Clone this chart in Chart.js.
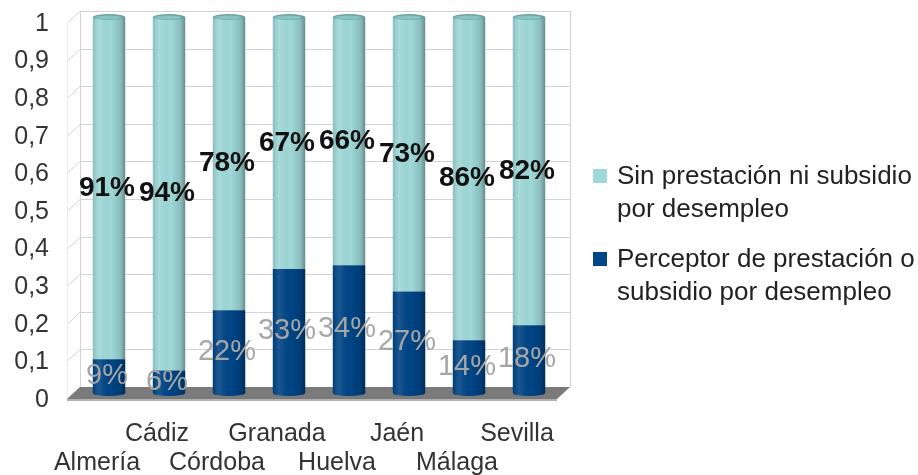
<!DOCTYPE html>
<html lang="es">
<head>
<meta charset="UTF-8">
<title>Prestación por desempleo por provincia</title>
<script src="https://cdn.jsdelivr.net/npm/chart.js"></script>
<style>
  html, body { margin: 0; padding: 0; background: #fff; }
  #wrap { position: relative; width: 918px; height: 475px; }
</style>
</head>
<body>
<div id="wrap"><canvas id="grafico"></canvas></div>
<script>
// Datos (fracciones sobre 1)
const provincias = ["Almería", "Cádiz", "Córdoba", "Granada", "Huelva", "Jaén", "Málaga", "Sevilla"];
const perceptor = [0.09, 0.06, 0.22, 0.33, 0.34, 0.27, 0.14, 0.18];
const sinPrestacion = [0.91, 0.94, 0.78, 0.67, 0.66, 0.73, 0.86, 0.82];
const serieNombres = [
  ["Perceptor de prestación o", "subsidio por desempleo"],
  ["Sin prestación ni subsidio", "por desempleo"]
];
const ticksY = [0, 0.1, 0.2, 0.3, 0.4, 0.5, 0.6, 0.7, 0.8, 0.9, 1];

const FUENTE = "'Liberation Sans', Arial, sans-serif";
const PROF = { dx: 6.5, dy: 6 }; // media profundidad de la "caja" 3D

// Paredes, rejilla y suelo en pseudo-3D
const fondo3d = {
  id: "fondo3d",
  beforeDatasetsDraw(chart) {
    const { ctx, chartArea: a, scales: { y } } = chart;
    const { dx, dy } = PROF;
    const xl = a.left - 5.5, xr = a.right + 4.5;
    const yTop = y.getPixelForValue(1), y0 = y.getPixelForValue(0);
    ctx.save();
    ctx.lineWidth = 1;
    ctx.strokeStyle = "#d3d3d3";
    ticksY.forEach(v => {
      const py = Math.round(y.getPixelForValue(v)) + 0.5;
      ctx.beginPath();
      ctx.moveTo(xl - dx, py + dy);
      ctx.lineTo(xl + dx, py - dy);
      ctx.lineTo(xr + dx, py - dy);
      ctx.stroke();
    });
    // aristas de las paredes
    ctx.beginPath();
    ctx.moveTo(Math.round(xl + dx) + 0.5, yTop - dy);
    ctx.lineTo(Math.round(xl + dx) + 0.5, y0 - dy);
    ctx.moveTo(Math.round(xr + dx) + 0.5, yTop - dy);
    ctx.lineTo(Math.round(xr + dx) + 0.5, y0 - dy);
    ctx.stroke();
    ctx.strokeStyle = "#ececec";
    ctx.beginPath();
    ctx.moveTo(Math.round(xl - dx) + 0.5, yTop + dy);
    ctx.lineTo(Math.round(xl - dx) + 0.5, y0 + dy);
    ctx.stroke();
    // suelo
    ctx.fillStyle = "#7a7a7a";
    ctx.beginPath();
    ctx.moveTo(xl - dx, y0 + dy);
    ctx.lineTo(xr - dx, y0 + dy);
    ctx.lineTo(xr + dx, y0 - dy);
    ctx.lineTo(xl + dx, y0 - dy);
    ctx.closePath();
    ctx.fill();
    ctx.fillStyle = "#b0b0b0";
    ctx.fillRect(xl - dx, y0 + dy, xr - xl, 2);
    ctx.restore();
  }
};

// Sombreado cilíndrico y etiquetas de porcentaje
const cilindros = {
  id: "cilindros",
  afterDatasetsDraw(chart) {
    const { ctx } = chart;
    const n = chart.data.datasets.length;
    ctx.save();
    chart.data.datasets.forEach((ds, i) => {
      const meta = chart.getDatasetMeta(i);
      meta.data.forEach(bar => {
        const { x, y, base, width } = bar.getProps(["x", "y", "base", "width"], true);
        const l = x - width / 2, r = x + width / 2;
        if (i === 0) {
          // fondo redondeado
          ctx.fillStyle = ds.backgroundColor;
          ctx.beginPath();
          ctx.ellipse(x, base, width / 2, 3, 0, 0, Math.PI);
          ctx.fill();
        }
        const g = ctx.createLinearGradient(l, 0, r, 0);
        g.addColorStop(0, "rgba(0,0,0,0.12)");
        g.addColorStop(0.2, "rgba(255,255,255,0.10)");
        g.addColorStop(0.55, "rgba(0,0,0,0)");
        g.addColorStop(0.85, "rgba(0,0,0,0.12)");
        g.addColorStop(1, "rgba(0,0,0,0.35)");
        ctx.fillStyle = g;
        ctx.fillRect(l, y, width, base - y);
        if (i === 0) {
          ctx.beginPath();
          ctx.ellipse(x, base, width / 2, 3, 0, 0, Math.PI);
          ctx.fill();
        }
        if (i === n - 1) {
          // tapa superior
          ctx.fillStyle = "#6aa4a4";
          ctx.beginPath();
          ctx.ellipse(x, y, width / 2, 3, 0, 0, Math.PI * 2);
          ctx.fill();
          ctx.fillStyle = "#88c2c2";
          ctx.beginPath();
          ctx.ellipse(x - 1, y + 0.5, width / 2 - 3, 2, 0, 0, Math.PI * 2);
          ctx.fill();
        }
      });
    });
    // etiquetas
    ctx.textAlign = "center";
    ctx.textBaseline = "middle";
    chart.data.datasets.forEach((ds, i) => {
      const meta = chart.getDatasetMeta(i);
      ctx.font = ds.etiquetaFuente;
      ctx.fillStyle = ds.etiquetaColor;
      meta.data.forEach((bar, j) => {
        const { x, y, base } = bar.getProps(["x", "y", "base"], true);
        ctx.fillText(Math.round(ds.data[j] * 100) + "%", x - 2, (y + base) / 2);
      });
    });
    ctx.restore();
  }
};

// Leyenda a la derecha, con textos en dos líneas
const leyenda = {
  id: "leyenda",
  afterDraw(chart) {
    const { ctx, chartArea: a } = chart;
    const x0 = a.right + 34;
    let yLine = a.top + 160;
    ctx.save();
    ctx.font = "26px " + FUENTE;
    ctx.textBaseline = "middle";
    ctx.textAlign = "left";
    const orden = chart.data.datasets.map((d, i) => i).reverse();
    orden.forEach(i => {
      const ds = chart.data.datasets[i];
      ctx.fillStyle = ds.backgroundColor;
      ctx.fillRect(x0, yLine - 8, 14, 14);
      ctx.fillStyle = "#222";
      ds.label.forEach((t, k) => ctx.fillText(t, x0 + 24, yLine + k * 33));
      yLine += 83;
    });
    ctx.restore();
  }
};

new Chart(document.getElementById("grafico"), {
  type: "bar",
  data: {
    labels: provincias,
    datasets: [
      {
        label: serieNombres[0],
        data: perceptor,
        backgroundColor: "#004586",
        etiquetaColor: "#a6a6a6",
        etiquetaFuente: "29px " + FUENTE
      },
      {
        label: serieNombres[1],
        data: sinPrestacion,
        backgroundColor: "#9fd8d8",
        etiquetaColor: "#111",
        etiquetaFuente: "bold 28px " + FUENTE
      }
    ]
  },
  options: {
    responsive: true,
    maintainAspectRatio: false,
    animation: false,
    layout: { padding: { top: 17, right: 359, left: 0, bottom: 0 } },
    datasets: { bar: { categoryPercentage: 1, barPercentage: 0.54 } },
    plugins: { legend: { display: false }, tooltip: { enabled: false } },
    scales: {
      x: {
        stacked: true,
        grid: { display: false, drawTicks: false },
        border: { display: false },
        ticks: {
          autoSkip: false,
          maxRotation: 0,
          padding: 27,
          labelOffset: -12,
          color: "#333",
          font: { family: FUENTE, size: 25, lineHeight: 1.16 },
          callback: (v, i) => i % 2 === 0 ? ["", provincias[i]] : [provincias[i]]
        },
        afterFit: s => { s.height = 82; s.paddingLeft = 0; s.paddingRight = 0; }
      },
      y: {
        stacked: true,
        min: 0,
        max: 1,
        grid: { display: false, drawTicks: false },
        border: { display: false },
        afterBuildTicks: s => { s.ticks = ticksY.map(v => ({ value: v })); },
        ticks: {
          padding: 30,
          labelOffset: 7,
          color: "#333",
          font: { family: FUENTE, size: 25 },
          callback: v => String(v).replace(".", ",")
        },
        afterFit: s => { s.width = 79; s.paddingTop = 0; s.paddingBottom = 0; }
      }
    }
  },
  plugins: [fondo3d, cilindros, leyenda]
});
</script>
</body>
</html>
